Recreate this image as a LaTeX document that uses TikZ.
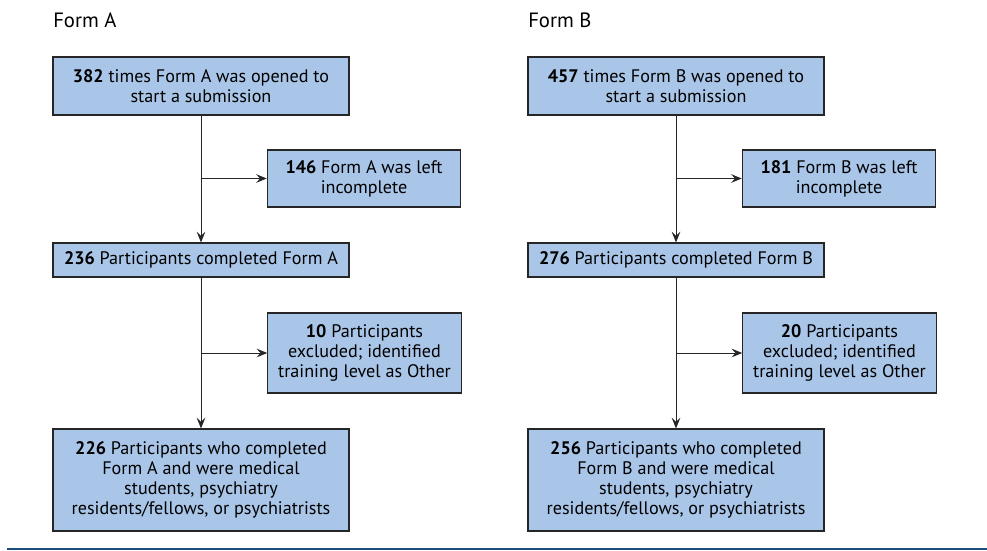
\documentclass[tikz,border=0pt]{standalone}
\usepackage{fontspec}
\setmainfont{PT Sans}
\usetikzlibrary{arrows.meta}
\usetikzlibrary{calc}
\definecolor{boxblue}{RGB}{169,198,232}
\definecolor{ruleblue}{RGB}{28,78,122}
\def\shift{475}

\begin{document}
\begin{tikzpicture}[x=0.75pt, y=-0.75pt]
	\tikzstyle{box}  = [draw=black!85, fill=boxblue, line width=0.9pt, align=center, inner sep=2pt, font=\fontsize{13.6}{15}\selectfont]
	\tikzstyle{wide} = [box, minimum width=222pt]
	\tikzstyle{side} = [box, minimum width=145pt]
	\tikzstyle{flow} = [-{Stealth[length=8pt, width=6.5pt, inset=3pt]}, line width=0.75pt, black!85]
	\tikzstyle{title} = [anchor=west, inner sep=0pt, font=\fontsize{15.5}{18}\selectfont]
	\useasboundingbox (0,0) rectangle (987,550);

	%% Form A
	\node [title] (ta) at (53, 20) {Form A};
	\node [wide, minimum height=43.5pt] (a1) at (201, 86) {\textbf{382} times Form A was opened to\\start a submission};
	\node [side, minimum height=42.75pt] (a2) at (364, 178.5) {\textbf{146} Form A was left\\incomplete};
	\node [wide, minimum height=25.5pt] (a3) at (201, 260) {\textbf{236} Participants completed Form A};
	\node [side, minimum height=60pt] (a4) at (364.5, 353) {\textbf{10} Participants\\excluded; identified\\training level as Other};
	\node [wide, minimum height=76.5pt] (a5) at (201, 480) {\textbf{226} Participants who completed\\Form A and were medical\\students, psychiatry\\residents/fellows, or psychiatrists};

	%% Form B
	\node [title] (tb) at ($(ta.west) + (\shift, 0)$) {Form B};
	\node [wide, minimum height=43.5pt] (b1) at ($(a1) + (\shift, 0)$) {\textbf{457} times Form B was opened to\\start a submission};
	\node [side, minimum height=42.75pt] (b2) at ($(a2) + (\shift, 0)$) {\textbf{181} Form B was left\\incomplete};
	\node [wide, minimum height=25.5pt] (b3) at ($(a3) + (\shift, 0)$) {\textbf{276} Participants completed Form B};
	\node [side, minimum height=60pt] (b4) at ($(a4) + (\shift, 0)$) {\textbf{20} Participants\\excluded; identified\\training level as Other};
	\node [wide, minimum height=76.5pt] (b5) at ($(a5) + (\shift, 0)$) {\textbf{256} Participants who completed\\Form B and were medical\\students, psychiatry\\residents/fellows, or psychiatrists};

	%% trunks and branches
	\draw [flow] (a1)--(a3);
	\draw [flow] (a3)--(a5);
	\draw [flow] (a1.south |- a2.west)--(a2.west);
	\draw [flow] (a3.south |- a4.west)--(a4.west);

	\draw [flow] (b1)--(b3);
	\draw [flow] (b3)--(b5);
	\draw [flow] (b1.south |- b2.west)--(b2.west);
	\draw [flow] (b3.south |- b4.west)--(b4.west);

	%% bottom rule
	\coordinate (rl) at (7, 549);
	\coordinate (rr) at (987, 549);
	\draw [ruleblue, line width=1.5pt] (rl)--(rr);
\end{tikzpicture}
\end{document}
